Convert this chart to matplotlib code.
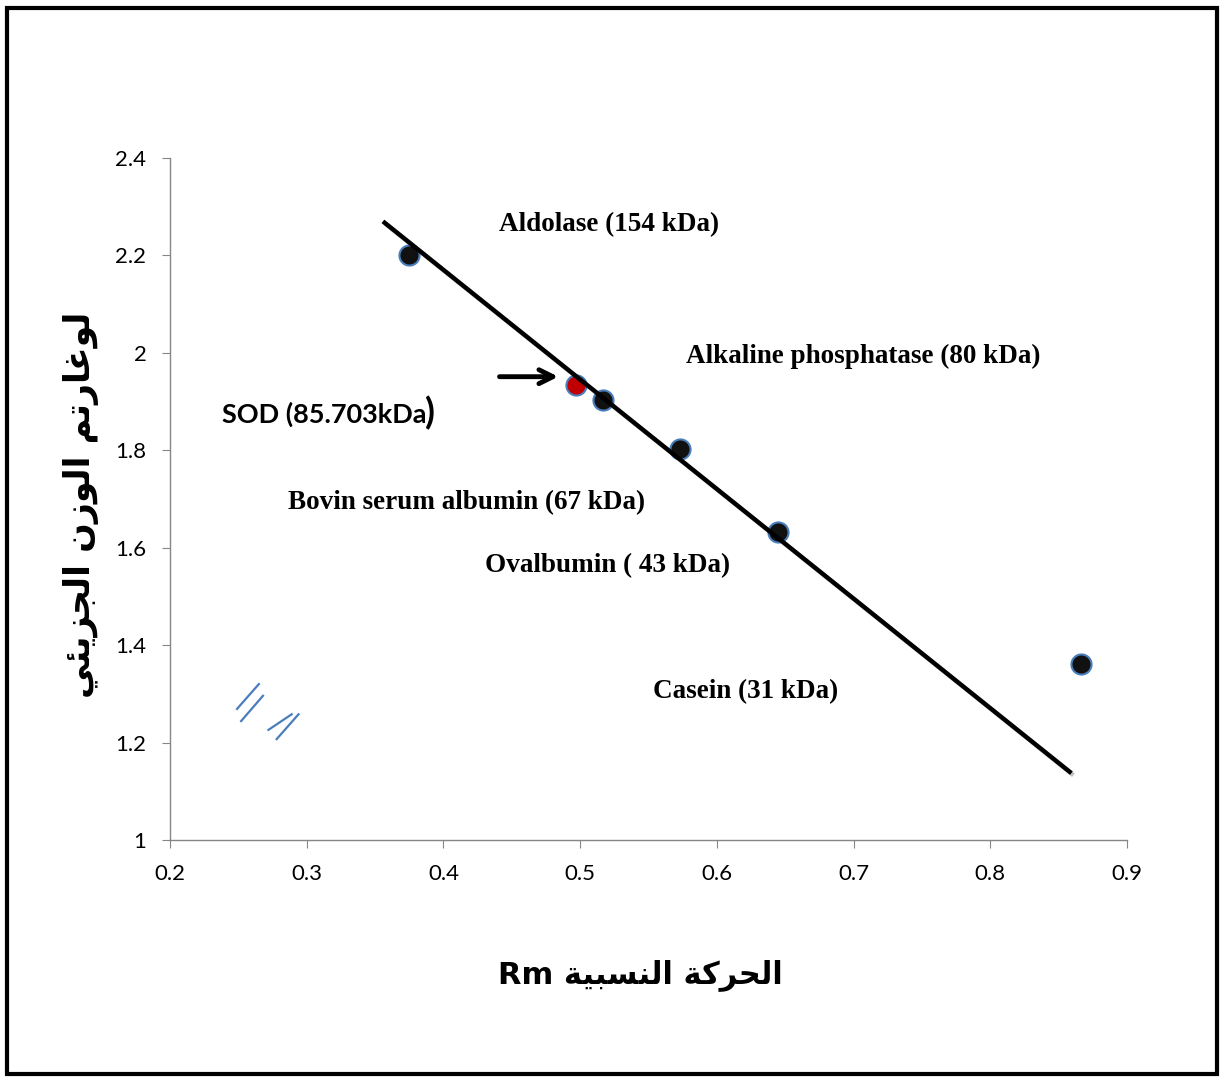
import matplotlib
matplotlib.use('Agg')
import matplotlib.pyplot as plt
import matplotlib.patheffects as pe
from matplotlib.patches import Rectangle

# data
rm_std = [0.375, 0.517, 0.573, 0.645, 0.866]
logmw_std = [2.200, 1.903, 1.802, 1.632, 1.361]
rm_sod = [0.497]
logmw_sod = [1.933]
fit_x = [0.357, 0.858]
fit_y = [2.267, 1.140]

labels = ['Aldolase (154 kDa)', 'Alkaline phosphatase (80 kDa)',
          'Bovin serum albumin (67 kDa)', 'Ovalbumin ( 43 kDa)', 'Casein (31 kDa)']
label_x = [0.521, 0.707, 0.417, 0.520, 0.621]
label_y = [2.263, 1.992, 1.692, 1.563, 1.304]

# stray pen strokes on the chart
strokes = [((0.249, 0.265), (1.269, 1.320)),
           ((0.252, 0.268), (1.244, 1.296)),
           ((0.272, 0.289), (1.226, 1.258)),
           ((0.278, 0.294), (1.207, 1.258))]

# arabic titles, written as presentation forms in visual order
# "الحركة النسبية Rm"
xlab = ('Rm ' + '\ufe94\ufef4\ufe92\ufeb4\ufee8\ufedf\ufe8d' + ' '
        + '\ufe94\ufedb\ufeae\ufea4\ufedf\ufe8d')
# "لوغارتم الوزن الجزيئي"
ylab = ('\ufef2\ufe8c\ufef3\ufeb0\ufea0\ufedf\ufe8d' + ' '
        + '\ufee5\ufeaf\ufeee\ufedf\ufe8d' + ' '
        + '\ufee2\ufe97\ufead\ufe8e\ufecf\ufeee\ufedf')

fig = plt.figure(figsize=(12.24, 10.82), dpi=100)
ax = fig.add_axes([0.1389, 0.2237, 0.7819, 0.6303])

ax.scatter(rm_std, logmw_std, s=210, color='#111111', edgecolors='#4a7ebb',
           linewidths=1.5, zorder=3)
ax.scatter(rm_sod, logmw_sod, s=210, color='#c00000', edgecolors='#4a7ebb',
           linewidths=1.5, zorder=3)
ax.plot(fit_x, fit_y, color='black', lw=3.2, zorder=4,
        path_effects=[pe.SimpleLineShadow(offset=(1.5, -1.5), alpha=0.25), pe.Normal()])

for (sx, sy) in strokes:
    ax.plot(sx, sy, color='#4a7ebb', lw=1.6, zorder=2)

for t, x, y in zip(labels, label_x, label_y):
    ax.text(x, y, t, ha='center', va='center', fontsize=19.5, fontweight='bold',
            family='Liberation Serif')

sod = ax.text(0.238, 1.873, 'SOD (85.703kDa', ha='left', va='center', fontsize=19.5,
              fontweight='bold', family='Lato')
fig.canvas.draw()
bb = sod.get_window_extent()
px = ax.transData.inverted().transform((bb.x1 + 5, 0))[0]
ax.text(px, 1.876, ')', ha='left', va='center', fontsize=26,
        fontweight='bold', family='Lato')

ax.annotate('', xy=(0.486, 1.951), xytext=(0.439, 1.951),
            arrowprops=dict(arrowstyle='->', color='black', lw=3.5,
                            mutation_scale=25), zorder=5)

ax.set_xlim(0.2, 0.9)
ax.set_ylim(1.0, 2.4)
ax.set_xticks([0.2, 0.3, 0.4, 0.5, 0.6, 0.7, 0.8, 0.9])
ax.set_yticks([1.0, 1.2, 1.4, 1.6, 1.8, 2.0, 2.2, 2.4])
ax.set_xticklabels(['0.2', '0.3', '0.4', '0.5', '0.6', '0.7', '0.8', '0.9'])
ax.set_yticklabels(['1', '1.2', '1.4', '1.6', '1.8', '2', '2.2', '2.4'])
for lab in ax.get_xticklabels() + ax.get_yticklabels():
    lab.set_family('Lato')
    lab.set_fontsize(16)
ax.tick_params(direction='out', length=6, color='#868686')
ax.tick_params(axis='x', pad=11)
ax.tick_params(axis='y', pad=11)
for s in ['top', 'right']:
    ax.spines[s].set_visible(False)
for s in ['left', 'bottom']:
    ax.spines[s].set_color('#868686')
    ax.spines[s].set_linewidth(1.0)

fig.text(0.523, 0.099, xlab, ha='center', va='center', fontsize=22,
         fontweight='bold', family='DejaVu Sans')
fig.text(0.066, 0.533, ylab, ha='center', va='center', fontsize=25,
         fontweight='bold', family='DejaVu Sans', rotation=90)

fig.patches.append(Rectangle((0.006, 0.007), 0.988, 0.986, transform=fig.transFigure,
                             fill=False, edgecolor='black', lw=3))

fig.savefig('out.png', dpi=100)
